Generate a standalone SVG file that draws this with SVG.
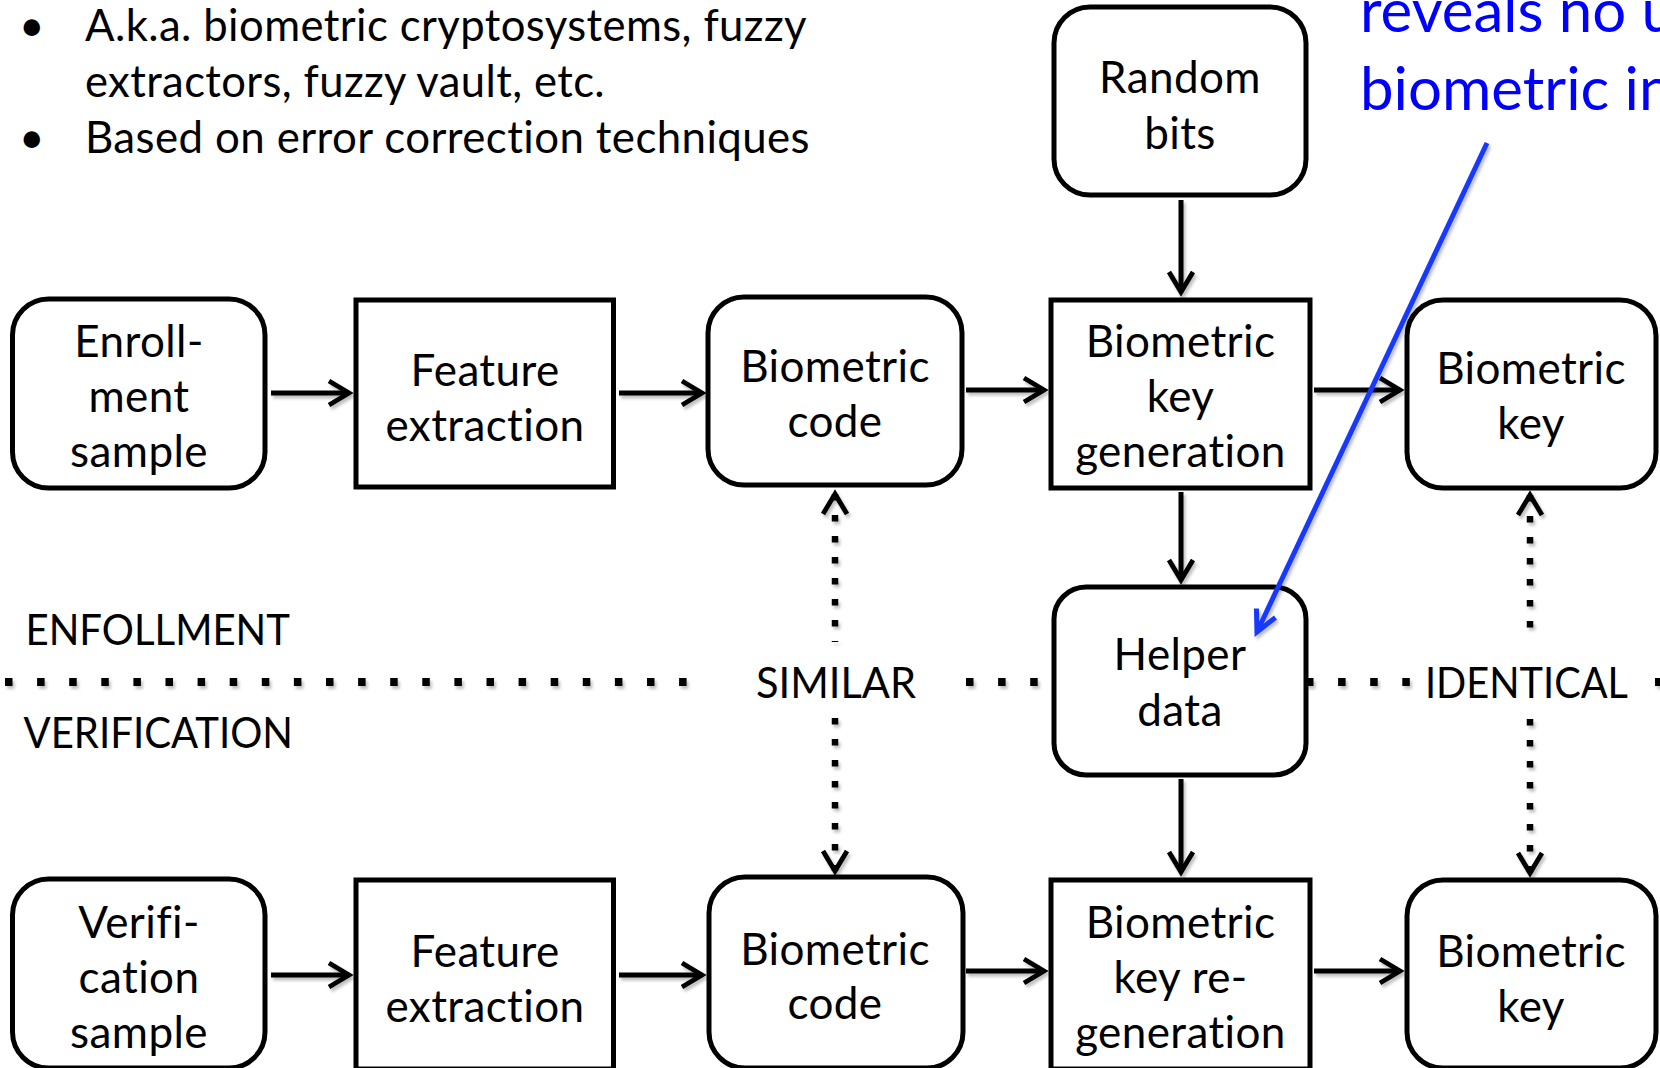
<svg xmlns="http://www.w3.org/2000/svg" width="1660" height="1068" viewBox="0 0 1660 1068">
  <style>
    .t { font-family: Lato, "Liberation Sans", sans-serif; font-size: 44px; letter-spacing: 0.4px; fill: #000; }
    .cap { font-family: Lato, "Liberation Sans", sans-serif; font-size: 42px; fill: #000; }
    .c { text-anchor: middle; }
    .blue { font-family: Lato, "Liberation Sans", sans-serif; font-size: 60px; fill: #0000ff; }
    .box { fill: #fff; stroke: #000; stroke-width: 5; }
    .conn { fill: none; stroke: #000; stroke-width: 5; marker-end: url(#arr); }
    .dotv { fill: none; stroke: #000; stroke-width: 6.5; stroke-dasharray: 6.5 14.5; }
    .doth { fill: none; stroke: #000; stroke-width: 8; stroke-dasharray: 7.5 24.6; }
  </style>
  <defs>
    <marker id="arr" markerUnits="userSpaceOnUse" viewBox="-26 -16 32 32" markerWidth="32" markerHeight="32" refX="0" refY="0" orient="auto-start-reverse">
      <path d="M-20,-12 L0,0 L-20,12" fill="none" stroke="#000" stroke-width="4.8"/>
    </marker>
    <marker id="arrBlue" markerUnits="userSpaceOnUse" viewBox="-26 -16 32 32" markerWidth="32" markerHeight="32" refX="0" refY="0" orient="auto">
      <path d="M-21,-10.5 L0,0 L-21,10.5" fill="none" stroke="#1438ff" stroke-width="5"/>
    </marker>
    <!-- soft shadow under the lines -->
    <filter id="shadow" filterUnits="userSpaceOnUse" x="0" y="0" width="1660" height="1068">
      <feDropShadow dx="2" dy="3" stdDeviation="1.8" flood-color="#000" flood-opacity="0.25"/>
    </filter>
  </defs>

  <rect width="1660" height="1068" fill="#fff"/>

  <!-- bullet notes -->
  <g id="notes">
    <text class="t c" x="32" y="41">•</text>
    <text class="t" x="85" y="41" textLength="722" lengthAdjust="spacingAndGlyphs">A.k.a. biometric cryptosystems, fuzzy</text>
    <text class="t" x="85" y="97" textLength="520" lengthAdjust="spacingAndGlyphs">extractors, fuzzy vault, etc.</text>
    <text class="t c" x="32" y="153">•</text>
    <text class="t" x="85" y="153" textLength="725" lengthAdjust="spacingAndGlyphs">Based on error correction techniques</text>
  </g>

  <!-- enrollment / verification separator -->
  <g id="separator">
    <g filter="url(#shadow)">
      <path class="doth" d="M5,682 H688"/>
      <path class="doth" d="M966,682 H1045"/>
      <path class="doth" d="M1306,682 H1410"/>
      <path class="doth" d="M1655,682 H1662"/>
    </g>
    <text class="cap" x="25.5" y="645" textLength="264.5" lengthAdjust="spacingAndGlyphs">ENFOLLMENT</text>
    <text class="cap" x="23.5" y="748" textLength="269.5" lengthAdjust="spacingAndGlyphs">VERIFICATION</text>
    <text class="cap" x="756" y="698" textLength="160" lengthAdjust="spacingAndGlyphs">SIMILAR</text>
    <text class="cap" x="1425" y="698" textLength="203" lengthAdjust="spacingAndGlyphs">IDENTICAL</text>
  </g>

  <!-- connectors -->
  <g id="connectors" filter="url(#shadow)">
    <path class="conn" d="M271,393 H349"/>
    <path class="conn" d="M619,393 H702"/>
    <path class="conn" d="M966,390 H1044"/>
    <path class="conn" d="M1314,390 H1400"/>
    <path class="conn" d="M271,975 H349"/>
    <path class="conn" d="M619,975 H702"/>
    <path class="conn" d="M966,971 H1044"/>
    <path class="conn" d="M1314,971 H1400"/>
    <path class="conn" d="M1181,200 V292"/>
    <path class="conn" d="M1181,492 V580"/>
    <path class="conn" d="M1181,779 V872"/>
    <!-- SIMILAR comparison -->
    <path class="dotv" d="M835,494 V642" marker-start="url(#arr)"/>
    <path class="dotv" d="M835,718 V871" marker-end="url(#arr)"/>
    <!-- IDENTICAL comparison -->
    <path class="dotv" d="M1530,495 V642" marker-start="url(#arr)"/>
    <path class="dotv" d="M1530,719 V873" marker-end="url(#arr)"/>
  </g>

  <!-- enrollment row -->
  <g id="enrollment-sample">
    <rect class="box" x="12.5" y="299" width="252.5" height="189" rx="36"/>
    <text class="t c" x="139" y="357">Enroll-</text>
    <text class="t c" x="139" y="412">ment</text>
    <text class="t c" x="139" y="467">sample</text>
  </g>
  <g id="feature-extraction-enroll">
    <rect class="box" x="356" y="300" width="257.5" height="187"/>
    <text class="t c" x="485" y="386">Feature</text>
    <text class="t c" x="485" y="441">extraction</text>
  </g>
  <g id="biometric-code-enroll">
    <rect class="box" x="708" y="297" width="254" height="188" rx="36"/>
    <text class="t c" x="835" y="382">Biometric</text>
    <text class="t c" x="835" y="437">code</text>
  </g>
  <g id="key-generation">
    <rect class="box" x="1051" y="300" width="259" height="188"/>
    <text class="t c" x="1180.5" y="357">Biometric</text>
    <text class="t c" x="1180.5" y="412">key</text>
    <text class="t c" x="1180.5" y="467">generation</text>
  </g>
  <g id="biometric-key-enroll">
    <rect class="box" x="1407" y="300" width="249" height="188" rx="36"/>
    <text class="t c" x="1531" y="384">Biometric</text>
    <text class="t c" x="1531" y="439">key</text>
  </g>
  <g id="random-bits">
    <rect class="box" x="1054" y="7" width="252" height="188" rx="36"/>
    <text class="t c" x="1180" y="93">Random</text>
    <text class="t c" x="1180" y="149">bits</text>
  </g>
  <g id="helper-data">
    <rect class="box" x="1054" y="587" width="252" height="188" rx="32"/>
    <text class="t c" x="1180" y="670">Helper</text>
    <text class="t c" x="1180" y="726">data</text>
  </g>

  <!-- verification row -->
  <g id="verification-sample">
    <rect class="box" x="12.5" y="879" width="252.5" height="189" rx="36"/>
    <text class="t c" x="139" y="938">Verifi-</text>
    <text class="t c" x="139" y="993">cation</text>
    <text class="t c" x="139" y="1048">sample</text>
  </g>
  <g id="feature-extraction-verify">
    <rect class="box" x="356" y="880" width="257.5" height="189"/>
    <text class="t c" x="485" y="967">Feature</text>
    <text class="t c" x="485" y="1022">extraction</text>
  </g>
  <g id="biometric-code-verify">
    <rect class="box" x="709" y="877" width="254" height="191" rx="36"/>
    <text class="t c" x="835" y="965">Biometric</text>
    <text class="t c" x="835" y="1019">code</text>
  </g>
  <g id="key-regeneration">
    <rect class="box" x="1051" y="880" width="259" height="189"/>
    <text class="t c" x="1180.5" y="938">Biometric</text>
    <text class="t c" x="1180.5" y="993">key re-</text>
    <text class="t c" x="1180.5" y="1048">generation</text>
  </g>
  <g id="biometric-key-verify">
    <rect class="box" x="1407" y="880" width="249" height="188" rx="36"/>
    <text class="t c" x="1531" y="967">Biometric</text>
    <text class="t c" x="1531" y="1022">key</text>
  </g>

  <!-- callout -->
  <g id="callout">
    <text class="blue" x="1360" y="32">reveals no u</text>
    <text class="blue" x="1360" y="110">biometric in</text>
    <path d="M1487,143 L1257,632" fill="none" stroke="#1438ff" stroke-width="5" marker-end="url(#arrBlue)" filter="url(#shadow)"/>
  </g>
</svg>
